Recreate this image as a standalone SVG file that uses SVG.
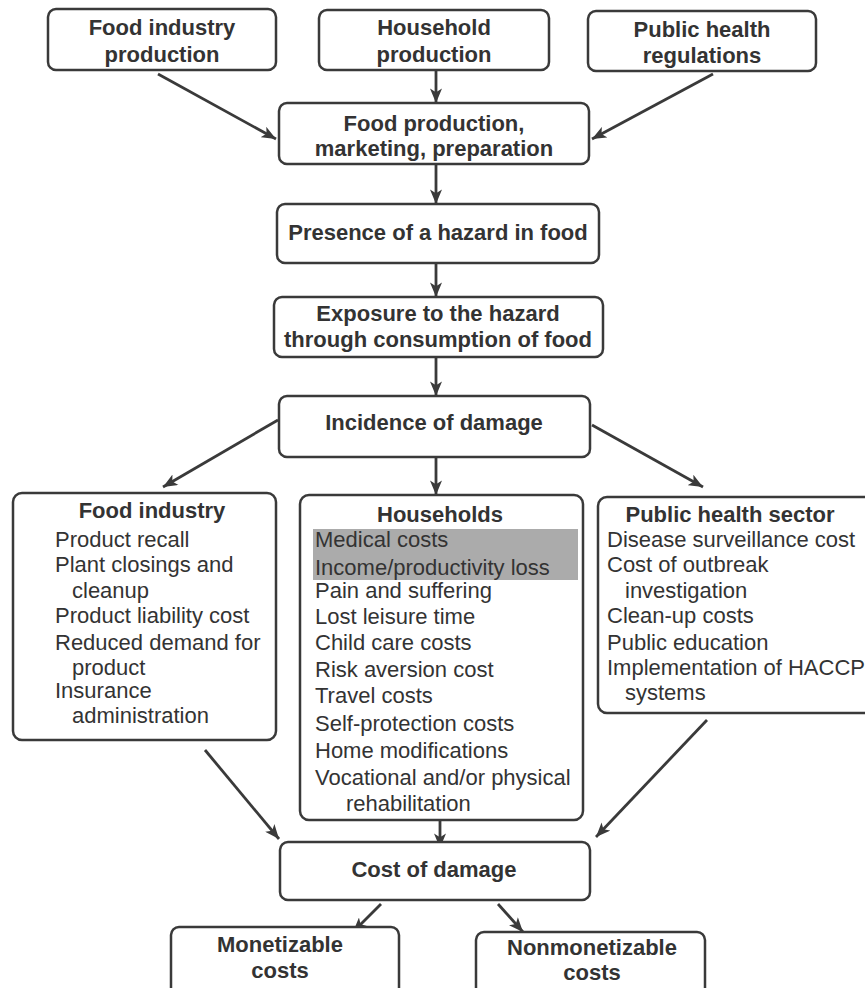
<svg xmlns="http://www.w3.org/2000/svg" width="865" height="988" viewBox="0 0 865 988">
<style>
.box{fill:#fff;stroke:#3a3a3a;stroke-width:2.5}
.t{font-family:"Liberation Sans",Arial,sans-serif;font-size:22px;fill:#333}
.b{font-weight:bold;text-anchor:middle}
.c{stroke:#3a3a3a;stroke-width:2.8;fill:none;marker-end:url(#ah)}
</style>
<defs>
<marker id="ah" viewBox="0 0 12 10" refX="12" refY="5" markerWidth="15" markerHeight="12" markerUnits="userSpaceOnUse" orient="auto">
<path d="M0,0 L12,5 L0,10 L3,5 z" fill="#3a3a3a"/>
</marker>
</defs>
<rect width="865" height="988" fill="#fff"/>
<g id="connectors">
<line class="c" x1="158" y1="74" x2="276" y2="139"/>
<line class="c" x1="436" y1="70" x2="436" y2="103"/>
<line class="c" x1="713" y1="74" x2="592" y2="139"/>
<line class="c" x1="436" y1="164" x2="436" y2="204"/>
<line class="c" x1="436" y1="263" x2="436" y2="297"/>
<line class="c" x1="436" y1="357" x2="436" y2="396"/>
<line class="c" x1="278" y1="420" x2="163" y2="487"/>
<line class="c" x1="436" y1="457" x2="436" y2="495"/>
<line class="c" x1="592" y1="425" x2="703" y2="487"/>
<line class="c" x1="205" y1="750" x2="279" y2="839"/>
<line class="c" x1="440" y1="820" x2="440" y2="848"/>
<line class="c" x1="707" y1="720" x2="596" y2="837"/>
<line class="c" x1="381" y1="904" x2="353" y2="932"/>
<line class="c" x1="498" y1="904" x2="523" y2="932"/>
</g>
<g id="n-food-industry-production">
<rect class="box" x="48" y="9" width="228" height="61" rx="8"/>
<text class="t b" x="162" y="35">Food industry</text>
<text class="t b" x="162" y="62">production</text>
</g>
<g id="n-household-production">
<rect class="box" x="319" y="10" width="230" height="60" rx="8"/>
<text class="t b" x="434" y="35">Household</text>
<text class="t b" x="434" y="62">production</text>
</g>
<g id="n-public-health-regulations">
<rect class="box" x="588" y="11" width="228" height="60" rx="8"/>
<text class="t b" x="702" y="37">Public health</text>
<text class="t b" x="702" y="63">regulations</text>
</g>
<g id="n-food-production">
<rect class="box" x="279" y="103" width="310" height="61" rx="8"/>
<text class="t b" x="434" y="131">Food production,</text>
<text class="t b" x="434" y="156">marketing, preparation</text>
</g>
<g id="n-presence">
<rect class="box" x="277" y="204" width="322" height="59" rx="8"/>
<text class="t b" x="438" y="240">Presence of a hazard in food</text>
</g>
<g id="n-exposure">
<rect class="box" x="274" y="297" width="329" height="60" rx="8"/>
<text class="t b" x="438" y="321">Exposure to the hazard</text>
<text class="t b" x="438" y="347">through consumption of food</text>
</g>
<g id="n-incidence">
<rect class="box" x="279" y="396" width="311" height="61" rx="8"/>
<text class="t b" x="434" y="430">Incidence of damage</text>
</g>
<g id="n-food-industry">
<rect class="box" x="13" y="493" width="263" height="247" rx="9"/>
<text class="t b" x="152" y="518">Food industry</text>
<text class="t" x="55" y="547">Product recall</text>
<text class="t" x="55" y="572">Plant closings and</text>
<text class="t" x="72" y="598">cleanup</text>
<text class="t" x="55" y="623">Product liability cost</text>
<text class="t" x="55" y="650">Reduced demand for</text>
<text class="t" x="72" y="675">product</text>
<text class="t" x="55" y="698">Insurance</text>
<text class="t" x="72" y="723">administration</text>
</g>
<g id="n-households">
<rect class="box" x="300" y="495" width="283" height="325" rx="9"/>
<rect x="313" y="529" width="265" height="51" fill="#ababab"/>
<text class="t b" x="440" y="522">Households</text>
<text class="t" x="315" y="547">Medical costs</text>
<text class="t" x="315" y="575">Income/productivity loss</text>
<text class="t" x="315" y="598">Pain and suffering</text>
<text class="t" x="315" y="624">Lost leisure time</text>
<text class="t" x="315" y="650">Child care costs</text>
<text class="t" x="315" y="677">Risk aversion cost</text>
<text class="t" x="315" y="703">Travel costs</text>
<text class="t" x="315" y="731">Self-protection costs</text>
<text class="t" x="315" y="758">Home modifications</text>
<text class="t" x="315" y="785">Vocational and/or physical</text>
<text class="t" x="346" y="811">rehabilitation</text>
</g>
<g id="n-public-health-sector">
<rect class="box" x="598" y="497" width="290" height="216" rx="9"/>
<text class="t b" x="730" y="522">Public health sector</text>
<text class="t" x="607" y="547">Disease surveillance cost</text>
<text class="t" x="607" y="572">Cost of outbreak</text>
<text class="t" x="625" y="598">investigation</text>
<text class="t" x="607" y="623">Clean-up costs</text>
<text class="t" x="607" y="650">Public education</text>
<text class="t" x="607" y="675">Implementation of HACCP</text>
<text class="t" x="625" y="700">systems</text>
</g>
<g id="n-cost-of-damage">
<rect class="box" x="280" y="842" width="310" height="58" rx="8"/>
<text class="t b" x="434" y="877">Cost of damage</text>
</g>
<g id="n-monetizable">
<rect class="box" x="171" y="927" width="228" height="80" rx="8"/>
<text class="t b" x="280" y="952">Monetizable</text>
<text class="t b" x="280" y="978">costs</text>
</g>
<g id="n-nonmonetizable">
<rect class="box" x="476" y="932" width="229" height="80" rx="8"/>
<text class="t b" x="592" y="955">Nonmonetizable</text>
<text class="t b" x="592" y="980">costs</text>
</g>
</svg>
